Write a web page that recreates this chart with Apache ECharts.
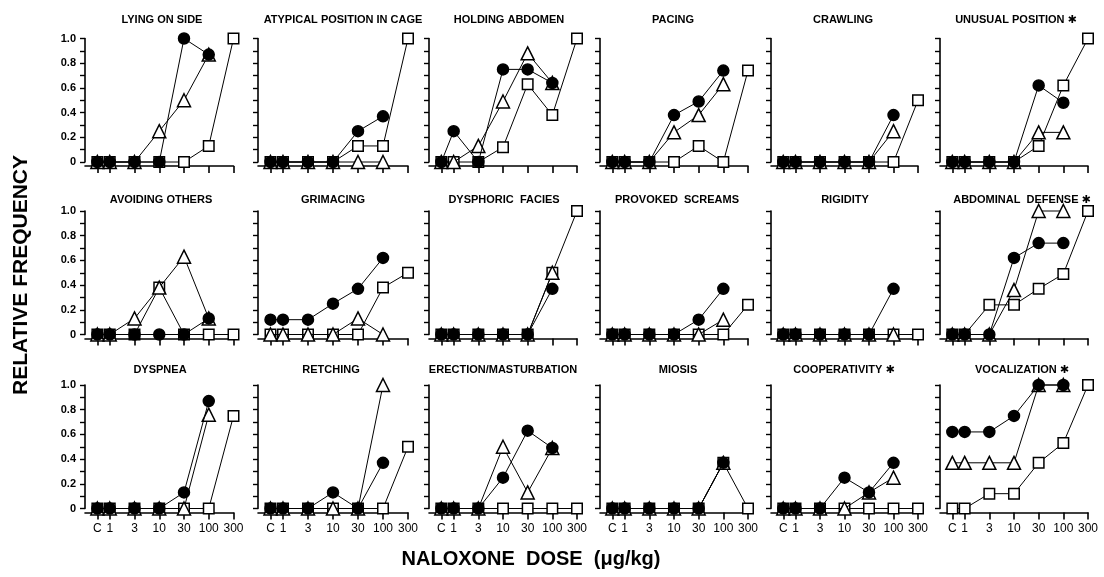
<!DOCTYPE html>
<html>
<head>
<meta charset="utf-8">
<script src="https://cdn.jsdelivr.net/npm/echarts@6/dist/echarts.min.js"></script>
<style>
html,body{margin:0;padding:0;background:#fff;}
#chart{width:1104px;height:577px;}
</style>
</head>
<body>
<div id="chart"></div>
<script>
// ---- data ----
const doseLabels = ['C', '1', '3', '10', '30', '100', '300'];
const dosePositions = [-0.5, 0, 1, 2, 3, 4, 5];
const yTickLabels = ['0', '0.2', '0.4', '0.6', '0.8', '1.0'];
const panelTitles = [
  'LYING ON SIDE', 'ATYPICAL POSITION IN CAGE', 'HOLDING ABDOMEN', 'PACING', 'CRAWLING', 'UNUSUAL POSITION \u2731',
  'AVOIDING OTHERS', 'GRIMACING', 'DYSPHORIC  FACIES', 'PROVOKED  SCREAMS', 'RIGIDITY', 'ABDOMINAL  DEFENSE \u2731',
  'DYSPNEA', 'RETCHING', 'ERECTION/MASTURBATION', 'MIOSIS', 'COOPERATIVITY \u2731', 'VOCALIZATION \u2731'
];
// filled circles (doses C..100)
const circleValues = [
  [0, 0, 0, 0, 1.0, 0.87],
  [0, 0, 0, 0, 0.25, 0.37],
  [0, 0.25, 0, 0.75, 0.75, 0.64],
  [0, 0, 0, 0.38, 0.49, 0.74],
  [0, 0, 0, 0, 0, 0.38],
  [0, 0, 0, 0, 0.62, 0.48],
  [0, 0, 0, 0, 0, 0.13],
  [0.12, 0.12, 0.12, 0.25, 0.37, 0.62],
  [0, 0, 0, 0, 0, 0.37],
  [0, 0, 0, 0, 0.12, 0.37],
  [0, 0, 0, 0, 0, 0.37],
  [0, 0, 0, 0.62, 0.74, 0.74],
  [0, 0, 0, 0, 0.13, 0.87],
  [0, 0, 0, 0.13, 0, 0.37],
  [0, 0, 0, 0.25, 0.63, 0.49],
  [0, 0, 0, 0, 0, 0.37],
  [0, 0, 0, 0.25, 0.13, 0.37],
  [0.62, 0.62, 0.62, 0.75, 1.0, 1.0]
];
// open triangles (doses C..100)
const triangleValues = [
  [0, 0, 0, 0.25, 0.5, 0.87],
  [0, 0, 0, 0, 0, 0],
  [0, 0, 0.13, 0.49, 0.88, 0.64],
  [0, 0, 0, 0.24, 0.38, 0.63],
  [0, 0, 0, 0, 0, 0.25],
  [0, 0, 0, 0, 0.24, 0.24],
  [0, 0, 0.13, 0.38, 0.63, 0.13],
  [0, 0, 0, 0, 0.13, 0],
  [0, 0, 0, 0, 0, 0.5],
  [0, 0, 0, 0, 0, 0.12],
  [0, 0, 0, 0, 0, 0],
  [0, 0, 0, 0.36, 1.0, 1.0],
  [0, 0, 0, 0, 0, 0.76],
  [0, 0, 0, 0, 0, 1.0],
  [0, 0, 0, 0.5, 0.13, 0.49],
  [0, 0, 0, 0, 0, 0.37],
  [0, 0, 0, 0, 0.13, 0.25],
  [0.37, 0.37, 0.37, 0.37, 1.0, 1.0]
];
// open squares (doses C..300)
const squareValues = [
  [0, 0, 0, 0, 0, 0.13, 1.0],
  [0, 0, 0, 0, 0.13, 0.13, 1.0],
  [0, 0, 0, 0.12, 0.63, 0.38, 1.0],
  [0, 0, 0, 0, 0.13, 0, 0.74],
  [0, 0, 0, 0, 0, 0, 0.5],
  [0, 0, 0, 0, 0.13, 0.62, 1.0],
  [0, 0, 0, 0.38, 0, 0, 0],
  [0, 0, 0, 0, 0, 0.38, 0.5],
  [0, 0, 0, 0, 0, 0.5, 1.0],
  [0, 0, 0, 0, 0, 0, 0.24],
  [0, 0, 0, 0, 0, 0, 0],
  [0, 0, 0.24, 0.24, 0.37, 0.49, 1.0],
  [0, 0, 0, 0, 0, 0, 0.75],
  [0, 0, 0, 0, 0, 0, 0.5],
  [0, 0, 0, 0, 0, 0, 0],
  [0, 0, 0, 0, 0, 0.37, 0],
  [0, 0, 0, 0, 0, 0, 0],
  [0, 0, 0.12, 0.12, 0.37, 0.53, 1.0]
];
const yAxisTitle = 'RELATIVE FREQUENCY';
const xAxisTitle = 'NALOXONE  DOSE  (\u03bcg/kg)';

// ---- layout ----
const colLeft = [85, 258, 429, 600, 771, 940];
const colRight = [233.5, 408, 577, 748, 918, 1088];
const rowTop = [38.5, 211, 385];
const rowH = 123.5;
const titleX = [162, 343, 509, 673, 843, 1016, 161, 333, 504, 677, 845, 1022, 160, 331, 503, 678, 844, 1022];
const titleY = [20, 200, 370];

const FONT = '"Liberation Sans", "DejaVu Sans", Arial, sans-serif';

const grids = [], xAxes = [], yAxes = [], series = [], graphics = [];
for (let p = 0; p < 18; p++) {
  const r = Math.floor(p / 6), c = p % 6;
  grids.push({left: colLeft[c], top: rowTop[r], width: colRight[c] - colLeft[c], height: rowH});
  xAxes.push({
    gridIndex: p, type: 'value', min: -1, max: 5, offset: 4,
    axisLine: {show: true, onZero: false, lineStyle: {color: '#000', width: 1.6}},
    axisTick: {show: true, length: 7, customValues: dosePositions, lineStyle: {color: '#000', width: 1.6}},
    axisLabel: {show: r === 2, customValues: dosePositions, margin: 10, color: '#000',
      fontFamily: FONT, fontSize: 12,
      formatter: v => { const i = dosePositions.findIndex(d => Math.abs(d - v) < 1e-6); return i >= 0 ? doseLabels[i] : ''; }},
    splitLine: {show: false}
  });
  yAxes.push({
    gridIndex: p, type: 'value', min: 0, max: 1, interval: 0.1,
    axisLine: {show: true, onZero: false, lineStyle: {color: '#000', width: 1.6}},
    axisTick: {show: true, length: 5, lineStyle: {color: '#000', width: 1.4}},
    axisLabel: {show: c === 0, margin: 9, color: '#000', fontFamily: FONT, fontSize: 11, fontWeight: 'bold',
      formatter: v => { const k = Math.round(v * 10); return k % 2 === 0 ? yTickLabels[k / 2] : ''; }},
    splitLine: {show: false}
  });
  const mk = (vals, symbol, size, fill, z) => ({
    type: 'line', xAxisIndex: p, yAxisIndex: p, symbol: symbol, symbolSize: size,
    data: vals.map((v, i) => [dosePositions[i], v]),
    lineStyle: {color: '#000', width: 1},
    itemStyle: {color: fill, borderColor: '#000', borderWidth: 1.5},
    clip: false, z: z, silent: true, animation: false
  });
  series.push(mk(squareValues[p], 'rect', 10.5, '#fff', 2));
  series.push(mk(triangleValues[p], 'triangle', 13, '#fff', 3));
  series.push(mk(circleValues[p], 'circle', 11, '#000', 4));
  graphics.push({type: 'text', x: titleX[p], y: titleY[r],
    style: {text: panelTitles[p], font: 'bold 11px ' + FONT, fill: '#000', align: 'center', verticalAlign: 'middle'}});
}
graphics.push({type: 'text', x: 21, y: 275, rotation: Math.PI / 2,
  style: {text: yAxisTitle, font: 'bold 21px ' + FONT, fill: '#000', align: 'center', verticalAlign: 'middle'}});
graphics.push({type: 'text', x: 531, y: 559,
  style: {text: xAxisTitle, font: 'bold 20px ' + FONT, fill: '#000', align: 'center', verticalAlign: 'middle'}});

const chart = echarts.init(document.getElementById('chart'), null, {renderer: 'canvas'});
chart.setOption({
  animation: false,
  backgroundColor: '#fff',
  grid: grids, xAxis: xAxes, yAxis: yAxes, series: series, graphic: graphics
});
</script>
</body>
</html>
